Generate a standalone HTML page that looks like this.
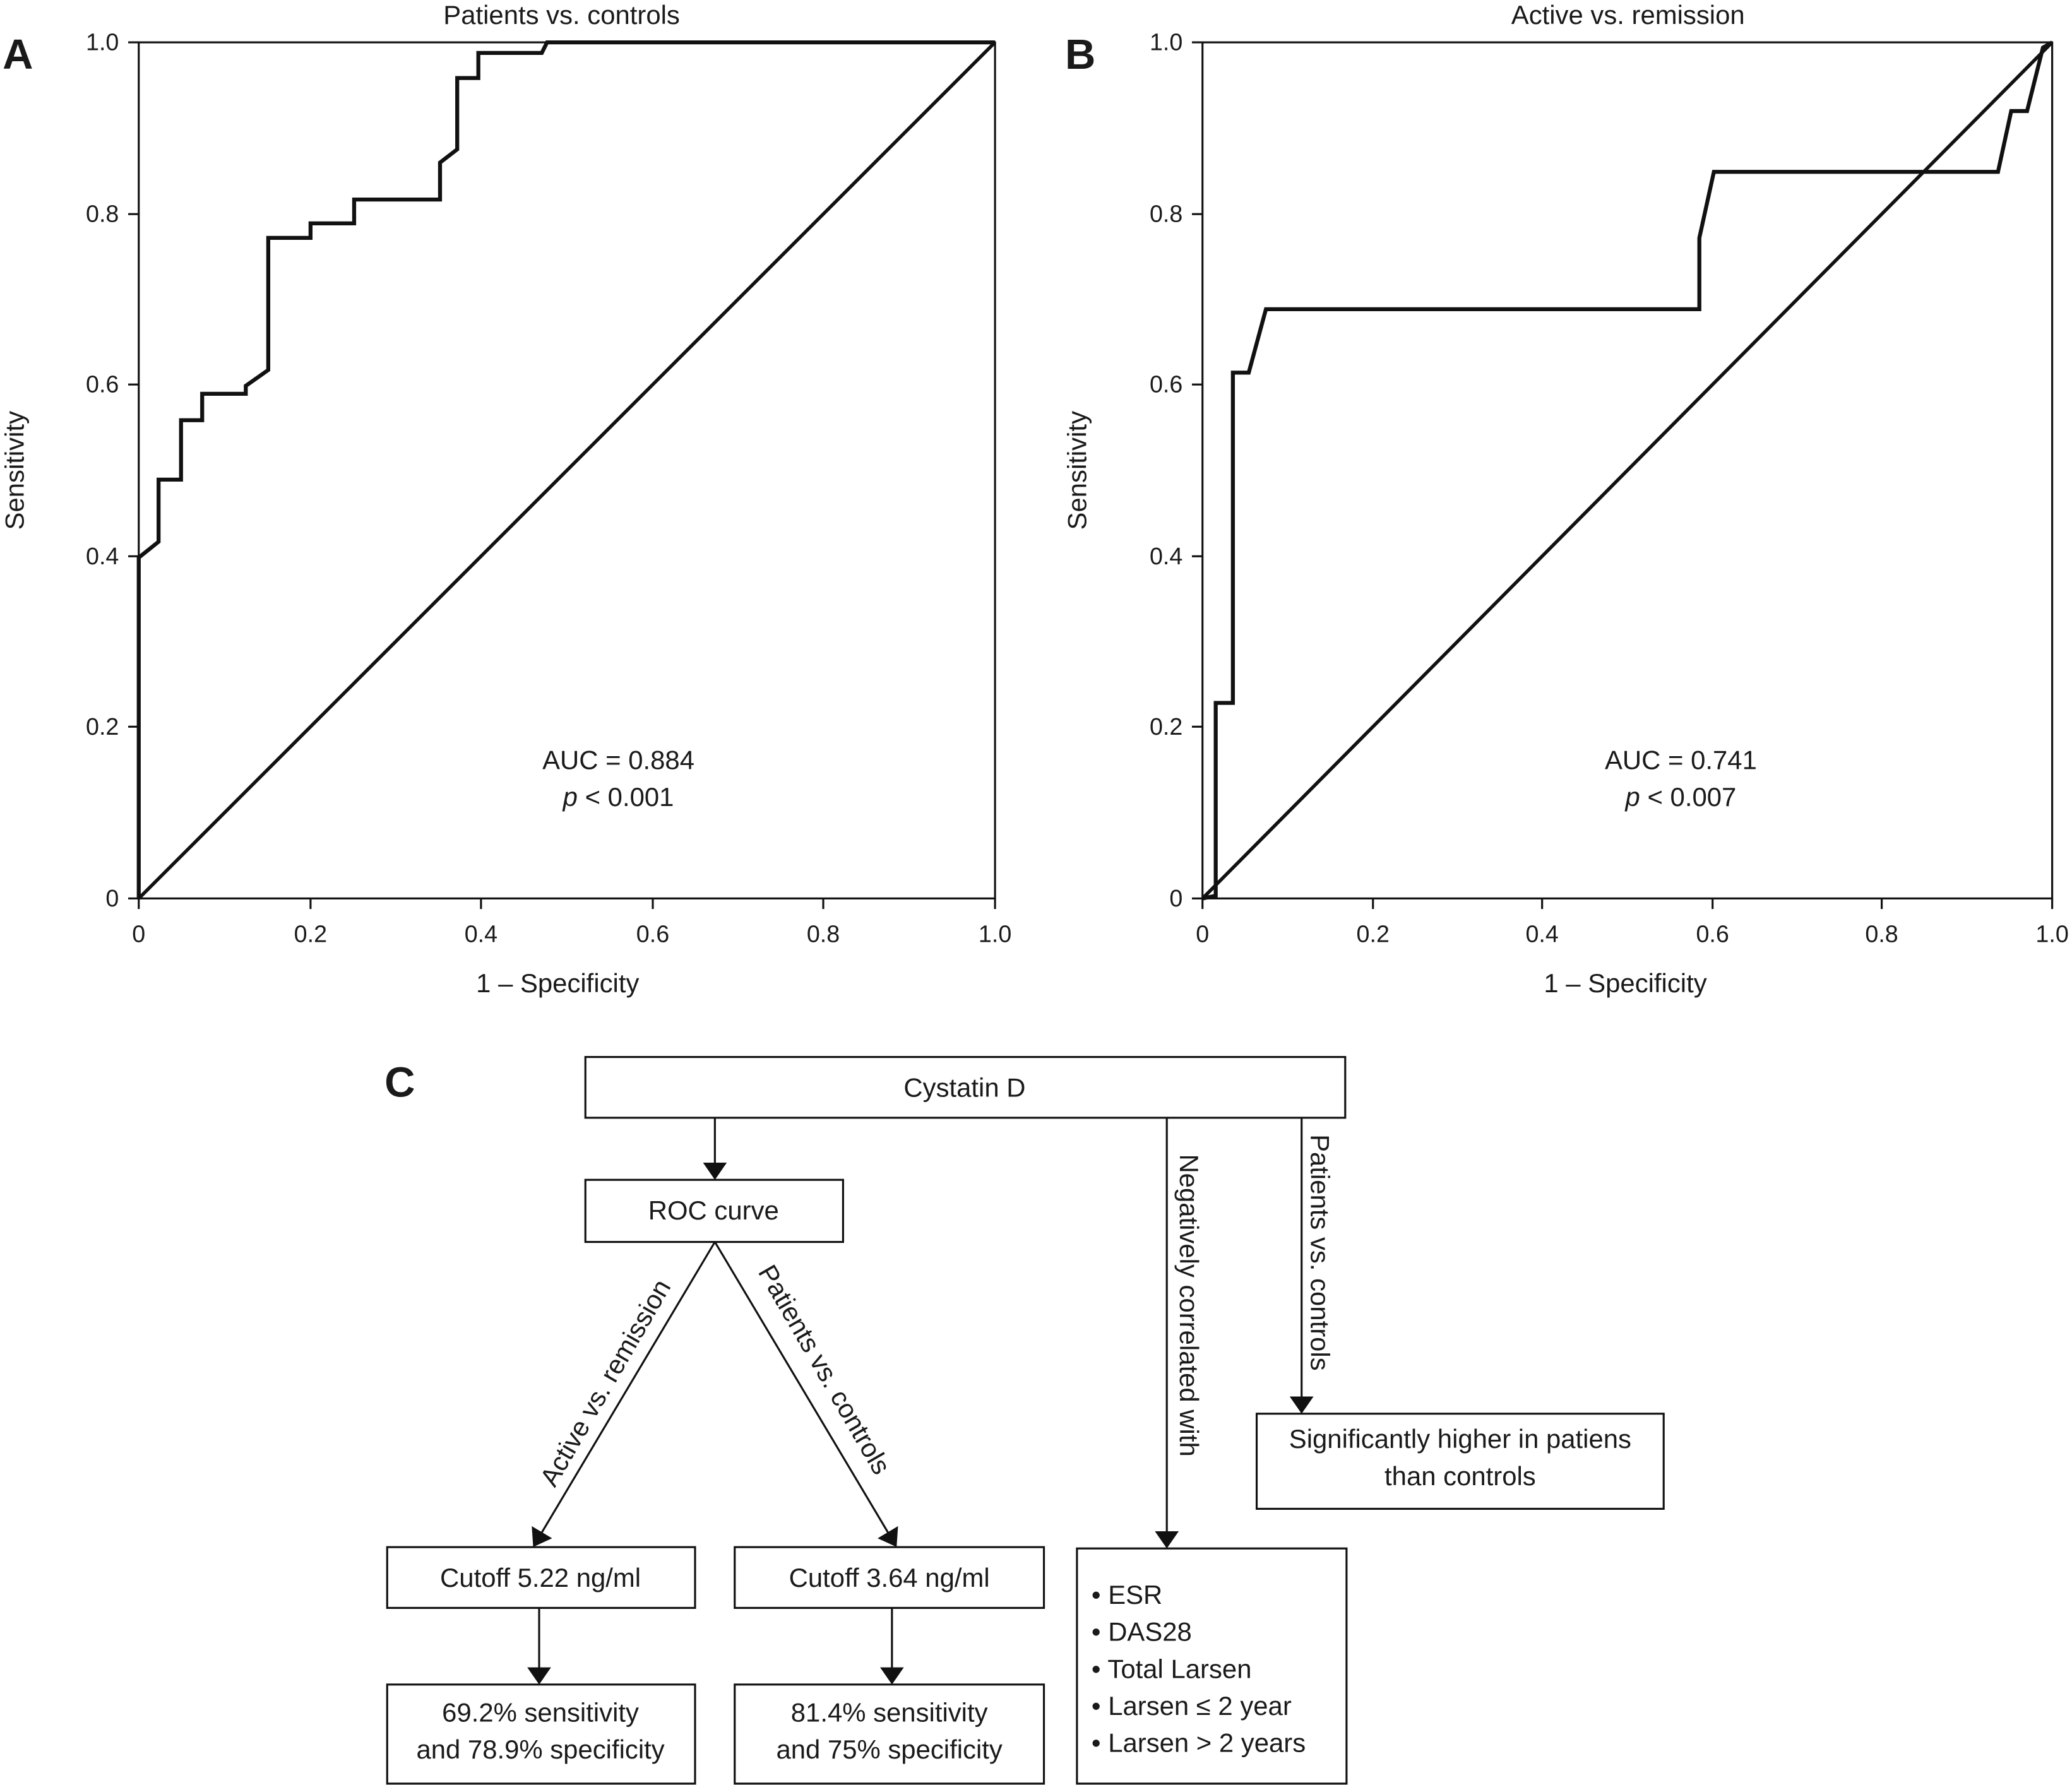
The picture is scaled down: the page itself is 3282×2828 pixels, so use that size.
<!DOCTYPE html>
<html><head><meta charset="utf-8"><style>
html,body{margin:0;padding:0;background:#fff;}
svg{display:block;}
text{font-family:"Liberation Sans",sans-serif;fill:#1a1a1a;}
</style></head><body>
<svg width="3282" height="2828" viewBox="0 0 1568 1351" xmlns="http://www.w3.org/2000/svg">
<defs><marker id="ar" markerWidth="13" markerHeight="18" refX="12" refY="9" orient="auto" markerUnits="userSpaceOnUse"><path d="M0,0 L13,9 L0,18 Z" fill="#111"/></marker></defs>
<g stroke="#111" fill="none" stroke-width="1.5">
<rect x="105" y="32" width="648" height="648"/>
<line x1="105" y1="680" x2="753" y2="32" stroke-width="2.6"/>
<polyline stroke-width="3" points="105,680 105,422 120,410 120,363 137,363 137,318 153,318 153,298 186,298 186,292 203,280 203,180 235,180 235,169 268,169 268,151 333,151 333,123 346,113 346,59 362,59 362,40 410,40 414,32 753,32"/>
<rect x="910" y="32" width="643" height="648"/>
<line x1="910" y1="680" x2="1553" y2="32" stroke-width="2.6"/>
<polyline stroke-width="3" points="910,680 920,678 920,532 933,532 933,282 945,282 958,234 1286,234 1286,180 1297,130 1512,130 1522,84 1534,84 1546,36 1553,32"/>
</g>
<g stroke="#111" stroke-width="1.5">
<line x1="105" y1="680" x2="105" y2="688"/><line x1="235" y1="680" x2="235" y2="688"/><line x1="364" y1="680" x2="364" y2="688"/><line x1="494" y1="680" x2="494" y2="688"/><line x1="623" y1="680" x2="623" y2="688"/><line x1="753" y1="680" x2="753" y2="688"/>
<line x1="97" y1="680" x2="105" y2="680"/><line x1="97" y1="550" x2="105" y2="550"/><line x1="97" y1="421" x2="105" y2="421"/><line x1="97" y1="291" x2="105" y2="291"/><line x1="97" y1="162" x2="105" y2="162"/><line x1="97" y1="32" x2="105" y2="32"/>
<line x1="910" y1="680" x2="910" y2="688"/><line x1="1039" y1="680" x2="1039" y2="688"/><line x1="1167" y1="680" x2="1167" y2="688"/><line x1="1296" y1="680" x2="1296" y2="688"/><line x1="1424" y1="680" x2="1424" y2="688"/><line x1="1553" y1="680" x2="1553" y2="688"/>
<line x1="902" y1="680" x2="910" y2="680"/><line x1="902" y1="550" x2="910" y2="550"/><line x1="902" y1="421" x2="910" y2="421"/><line x1="902" y1="291" x2="910" y2="291"/><line x1="902" y1="162" x2="910" y2="162"/><line x1="902" y1="32" x2="910" y2="32"/>
</g>
<g font-size="18" text-anchor="middle">
<text x="105" y="713">0</text><text x="235" y="713">0.2</text><text x="364" y="713">0.4</text><text x="494" y="713">0.6</text><text x="623" y="713">0.8</text><text x="753" y="713">1.0</text>
<text x="910" y="713">0</text><text x="1039" y="713">0.2</text><text x="1167" y="713">0.4</text><text x="1296" y="713">0.6</text><text x="1424" y="713">0.8</text><text x="1553" y="713">1.0</text>
</g>
<g font-size="18" text-anchor="end">
<text x="90" y="686">0</text><text x="90" y="556">0.2</text><text x="90" y="427">0.4</text><text x="90" y="297">0.6</text><text x="90" y="168">0.8</text><text x="90" y="38">1.0</text>
<text x="895" y="686">0</text><text x="895" y="556">0.2</text><text x="895" y="427">0.4</text><text x="895" y="297">0.6</text><text x="895" y="168">0.8</text><text x="895" y="38">1.0</text>
</g>
<g font-size="20" text-anchor="middle">
<text x="425" y="18">Patients vs. controls</text>
<text x="1232" y="18">Active vs. remission</text>
<text x="422" y="751">1 – Specificity</text>
<text x="1230" y="751">1 – Specificity</text>
<text transform="translate(18,356) rotate(-90)">Sensitivity</text>
<text transform="translate(822,356) rotate(-90)">Sensitivity</text>
<text x="468" y="582">AUC = 0.884</text>
<text x="468" y="610"><tspan font-style="italic">p</tspan> &lt; 0.001</text>
<text x="1272" y="582">AUC = 0.741</text>
<text x="1272" y="610"><tspan font-style="italic">p</tspan> &lt; 0.007</text>
</g>
<g font-size="32" font-weight="bold">
<text x="2" y="52">A</text><text x="806" y="52">B</text><text x="291" y="830">C</text>
</g>
<g stroke="#111" stroke-width="1.5" fill="none">
<rect x="443" y="800" width="575" height="46"/>
<rect x="443" y="893" width="195" height="47"/>
<rect x="293" y="1171" width="233" height="46"/>
<rect x="556" y="1171" width="234" height="46"/>
<rect x="293" y="1275" width="233" height="75"/>
<rect x="556" y="1275" width="234" height="75"/>
<rect x="815" y="1172" width="204" height="178"/>
<rect x="951" y="1070" width="308" height="72"/>
<line x1="541" y1="846" x2="541" y2="892" marker-end="url(#ar)"/>
<line x1="541" y1="940" x2="404" y2="1170" marker-end="url(#ar)"/>
<line x1="541" y1="940" x2="678" y2="1170" marker-end="url(#ar)"/>
<line x1="408" y1="1217" x2="408" y2="1274" marker-end="url(#ar)"/>
<line x1="675" y1="1217" x2="675" y2="1274" marker-end="url(#ar)"/>
<line x1="883" y1="846" x2="883" y2="1171" marker-end="url(#ar)"/>
<line x1="985" y1="846" x2="985" y2="1069" marker-end="url(#ar)"/>
</g>
<g font-size="20" text-anchor="middle">
<text x="730" y="830">Cystatin D</text>
<text x="540" y="923">ROC curve</text>
<text x="409" y="1201">Cutoff 5.22 ng/ml</text>
<text x="673" y="1201">Cutoff 3.64 ng/ml</text>
<text x="409" y="1303">69.2% sensitivity</text>
<text x="409" y="1331">and 78.9% specificity</text>
<text x="673" y="1303">81.4% sensitivity</text>
<text x="673" y="1331">and 75% specificity</text>
<text x="1105" y="1096">Significantly higher in patiens</text>
<text x="1105" y="1124">than controls</text>
<text transform="translate(464,1050) rotate(-60)">Active vs. remission</text>
<text transform="translate(618,1040) rotate(60)">Patients vs. controls</text>
<text transform="translate(893,988) rotate(90)">Negatively correlated with</text>
<text transform="translate(992,948) rotate(90)">Patients vs. controls</text>
</g>
<g font-size="20">
<text x="826" y="1214">•  ESR</text>
<text x="826" y="1242">•  DAS28</text>
<text x="826" y="1270">•  Total Larsen</text>
<text x="826" y="1298">•  Larsen ≤ 2 year</text>
<text x="826" y="1326">•  Larsen &gt; 2 years</text>
</g>
</svg>
</body></html>
